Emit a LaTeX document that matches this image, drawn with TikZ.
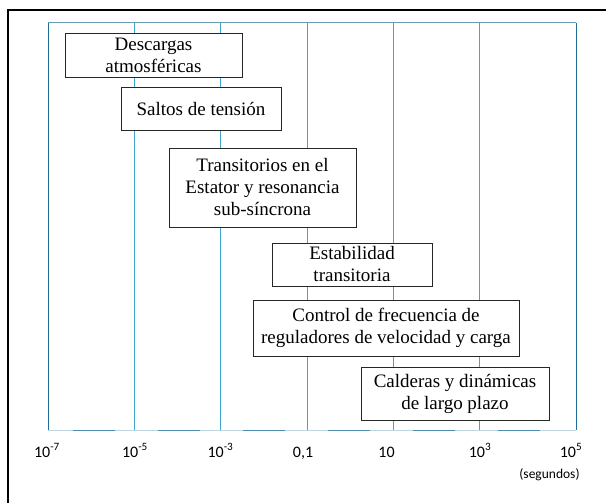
\documentclass[tikz,border=0pt]{standalone}
\usepackage{fontspec}
\setmainfont{Liberation Serif}
\newfontfamily\tickfont{Carlito}
\definecolor{gridlight}{HTML}{3FA6CF}
\definecolor{griddark}{HTML}{1F6E98}
\definecolor{gridtop}{HTML}{6A9DB3}
\definecolor{axislight}{HTML}{BFD6E0}
\definecolor{axisdark}{HTML}{4E8DB0}
\begin{document}
\begin{tikzpicture}[x=1pt,y=-1pt,
  box/.style={draw=black!85, line width=0.9pt, fill=white, align=center, inner sep=0pt,
    font=\fontsize{19}{22}\selectfont},
  ticklab/.style={font=\tickfont\fontsize{16}{18}\selectfont, anchor=base, inner sep=0pt},
  vlight/.style={draw=gridlight, line width=1pt},
  vdark/.style={draw=griddark, line width=1.1pt}]
\useasboundingbox (0,0) rectangle (606,503);
% outer frame (left and top)
\draw[line width=2pt, black] (7.5,503) -- (7.5,10) -- (606,10);
% grid
\coordinate (gtl) at (48.3,22.7);
\coordinate (gtr) at (576.3,22.7);
\coordinate (gbl) at (48.3,430.3);
\coordinate (gbr) at (576.3,430.3);
\foreach \x in {134.7,220.7,307,393,479.3}
  \draw[vlight] (\x,22.7) -- (\x,430.3);
\draw[vdark] (gtl) -- (gbl);
\draw[vdark] (gtr) -- (gbr);
\draw[draw=gridtop, line width=1.3pt] (gtl) -- (gtr);
\draw[draw=axislight, line width=1.6pt] (gbl) -- (gbr);
\draw[draw=axisdark, line width=1.6pt, dash pattern=on 42pt off 43pt, dash phase=60pt] (gbl) -- (gbr);
% boxes
\node[box, minimum width=177pt, minimum height=44pt] (b1) at (153.5,55)
  {\fontsize{19}{20}\selectfont Descargas\\atmosféricas};
\node[box, minimum width=160pt, minimum height=43pt] (b2) at (201,108.5) {Saltos de tensión};
\node[box, minimum width=187pt, minimum height=79pt] (b3) at (262.5,187.5)
  {Transitorios en el\\Estator y resonancia\\sub-síncrona};
\node[box, minimum width=160pt, minimum height=43pt] (b4) at (352,264.5) {Estabilidad\\transitoria};
\node[box, minimum width=266pt, minimum height=56pt] (b5) at (386,328)
  {Control de frecuencia de\\reguladores de velocidad y carga};
\node[box, minimum width=188pt, minimum height=53pt] (b6) at (455,393.5)
  {Calderas y dinámicas\\de largo plazo};
% tick labels
\node[ticklab] (t1) at (47,457) {10\textsuperscript{-7}};
\node[ticklab] (t2) at (135,457) {10\textsuperscript{-5}};
\node[ticklab] (t3) at (220.5,457) {10\textsuperscript{-3}};
\node[ticklab] (t4) at (303,457) {0,1};
\node[ticklab] (t5) at (386.5,457) {10};
\node[ticklab] (t6) at (480,457) {10\textsuperscript{3}};
\node[ticklab] (t7) at (571,457) {10\textsuperscript{5}};
\node[font=\tickfont\fontsize{13.5}{15}\selectfont, inner sep=0pt] (seg) at (549.5,475) {(segundos)};
\end{tikzpicture}
\end{document}
